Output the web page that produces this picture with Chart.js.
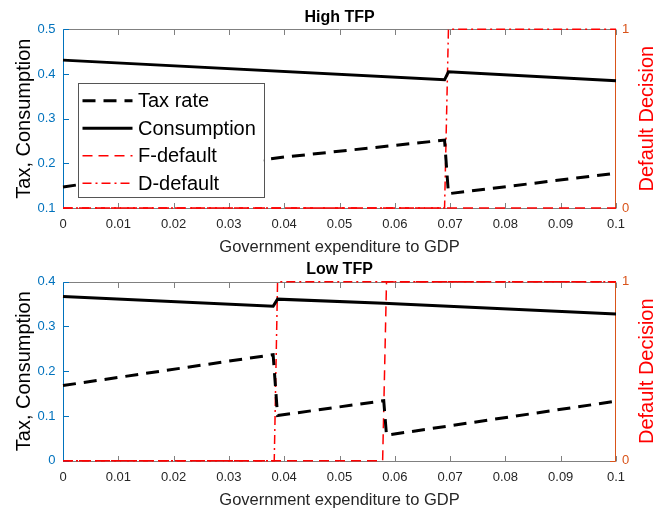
<!DOCTYPE html>
<html>
<head>
<meta charset="utf-8">
<script src="https://cdn.jsdelivr.net/npm/chart.js@4.4.1/dist/chart.umd.min.js"></script>
<style>
  html, body { margin: 0; padding: 0; background: #fff; }
  .panel { position: absolute; left: 0; width: 654px; height: 255px; }
</style>
</head>
<body>
<div class="panel" style="top:0"><canvas id="highTfp"></canvas></div>
<div class="panel" style="top:255px"><canvas id="lowTfp"></canvas></div>
<script>
// ---- Data: government expenditure to GDP (x) and policy outcomes ----
// High TFP
const HIGH_TAX_G  = [0, 0.02, 0.04, 0.069, 0.0697, 0.1];
const HIGH_TAX    = [0.147, 0.183, 0.214, 0.252, 0.132, 0.178];
const HIGH_CONS_G = [0, 0.069, 0.0697, 0.1];
const HIGH_CONS   = [0.431, 0.387, 0.405, 0.385];
const HIGH_FDEF_G = [0, 0.1];
const HIGH_FDEF   = [0, 0];
const HIGH_DDEF_G = [0, 0.069, 0.0697, 0.1];
const HIGH_DDEF   = [0, 0, 1, 1];

// Low TFP
const LOW_TAX_G  = [0, 0.038, 0.0388, 0.058, 0.0585, 0.1];
const LOW_TAX    = [0.168, 0.237, 0.101, 0.134, 0.057, 0.133];
const LOW_CONS_G = [0, 0.038, 0.0388, 0.058, 0.1];
const LOW_CONS   = [0.367, 0.345, 0.361, 0.352, 0.328];
const LOW_FDEF_G = [0, 0.0578, 0.0585, 0.1];
const LOW_FDEF   = [0, 0, 1, 1];
const LOW_DDEF_G = [0, 0.0382, 0.0388, 0.1];
const LOW_DDEF   = [0, 0, 1, 1];

// Axis ranges / ticks
const X_RANGE = [0, 0.1];
const X_STEP = 0.01;
const HIGH_LEFT_RANGE = [0.1, 0.5];
const LOW_LEFT_RANGE = [0, 0.4];
const LEFT_STEP = 0.1;
const RIGHT_RANGE = [0, 1];

const SERIES_NAMES = ['Tax rate', 'Consumption', 'F-default', 'D-default'];

// ---- Styling ----
const FONT = '"Liberation Sans", Arial, Helvetica, sans-serif';
const BLUE = '#0072BD';
const ORANGE = '#D95319';
const RED = '#FF0000';
const GRAY = '#808080';
const TICK_LEN = 5.5;
const TAX_DASH = [13, 8];
const F_DASH = [10, 6];
const D_DASH = [9, 4, 2, 4];

const pts = (xs, ys) => xs.map((x, i) => ({ x, y: ys[i] }));
const fmt = v => String(parseFloat(Number(v).toFixed(3)));
const crisp = v => Math.round(v) + 0.5;

// Box, inward tick marks and coloured y-axis spines
const framePlugin = {
  id: 'frame',
  beforeDatasetsDraw(chart) {
    const { ctx, chartArea: a, scales } = chart;
    const L = crisp(a.left), R = crisp(a.right - 1), T = crisp(a.top), B = crisp(a.bottom);
    const seg = (x1, y1, x2, y2, c) => {
      ctx.strokeStyle = c; ctx.beginPath(); ctx.moveTo(x1, y1); ctx.lineTo(x2, y2); ctx.stroke();
    };
    ctx.save();
    ctx.lineWidth = 1;
    seg(L, T, R, T, GRAY);
    seg(L, B, R, B, GRAY);
    scales.x.ticks.forEach(t => {
      const px = crisp(scales.x.getPixelForValue(t.value));
      seg(px, B, px, B - TICK_LEN, GRAY);
      seg(px, T, px, T + TICK_LEN, GRAY);
    });
    scales.y.ticks.forEach(t => {
      const py = crisp(scales.y.getPixelForValue(t.value));
      seg(L, py, L + TICK_LEN, py, BLUE);
    });
    scales.y2.ticks.forEach(t => {
      const py = crisp(scales.y2.getPixelForValue(t.value));
      seg(R, py, R - TICK_LEN, py, ORANGE);
    });
    seg(L, T, L, B, BLUE);
    seg(R, T, R, B, ORANGE);
    ctx.restore();
  }
};

// Titles, axis labels and the in-plot legend
const textPlugin = {
  id: 'texts',
  afterDraw(chart, args, opts) {
    const { ctx, chartArea: a } = chart;
    const cx = (a.left + a.right) / 2;
    const cy = (a.top + a.bottom) / 2;
    ctx.save();
    ctx.textBaseline = 'alphabetic';
    ctx.textAlign = 'center';

    ctx.fillStyle = '#000';
    ctx.font = 'bold 16px ' + FONT;
    ctx.fillText(opts.title, cx, a.top - 7.5);

    ctx.fillStyle = '#262626';
    ctx.font = '16.5px ' + FONT;
    ctx.fillText('Government expenditure to GDP', cx, a.bottom + 44);

    ctx.font = '20px ' + FONT;
    ctx.save();
    ctx.translate(30, cy);
    ctx.rotate(-Math.PI / 2);
    ctx.fillStyle = '#000';
    ctx.fillText('Tax, Consumption', 0, 0);
    ctx.restore();

    ctx.save();
    ctx.translate(653, cy);
    ctx.rotate(-Math.PI / 2);
    ctx.fillStyle = RED;
    ctx.fillText('Default Decision', 0, 0);
    ctx.restore();

    if (opts.legend) {
      const bx = a.left + 14.5, by = a.top + 54, bw = 185.5, bh = 114;
      ctx.fillStyle = '#fff';
      ctx.fillRect(bx, by, bw, bh);
      ctx.strokeStyle = '#555';
      ctx.lineWidth = 1;
      ctx.strokeRect(crisp(bx), crisp(by), Math.round(bw), Math.round(bh));
      const rows = [17.5, 45, 72.5, 100];
      ctx.textAlign = 'left';
      ctx.textBaseline = 'middle';
      ctx.font = '20px ' + FONT;
      chart.data.datasets.forEach((ds, i) => {
        const y = by + rows[i];
        ctx.save();
        ctx.strokeStyle = ds.borderColor;
        ctx.lineWidth = ds.borderWidth;
        ctx.setLineDash(ds.borderDash || []);
        ctx.beginPath();
        ctx.moveTo(bx + 5, y);
        ctx.lineTo(bx + 55, y);
        ctx.stroke();
        ctx.restore();
        ctx.fillStyle = '#000';
        ctx.fillText(ds.label, bx + 60.5, y + 1);
      });
    }
    ctx.restore();
  }
};

function makeChart(id, c) {
  const plotTop = c.plotTop, plotBottom = c.plotBottom;
  return new Chart(document.getElementById(id), {
    type: 'line',
    data: {
      datasets: [
        { label: SERIES_NAMES[0], data: pts(c.taxG, c.tax), yAxisID: 'y',
          borderColor: '#000', borderWidth: 3, borderDash: TAX_DASH },
        { label: SERIES_NAMES[1], data: pts(c.consG, c.cons), yAxisID: 'y',
          borderColor: '#000', borderWidth: 3 },
        { label: SERIES_NAMES[2], data: pts(c.fG, c.f), yAxisID: 'y2',
          borderColor: RED, borderWidth: 1.5, borderDash: F_DASH },
        { label: SERIES_NAMES[3], data: pts(c.dG, c.d), yAxisID: 'y2',
          borderColor: RED, borderWidth: 1.5, borderDash: D_DASH }
      ].map(ds => Object.assign(ds, { pointRadius: 0, tension: 0, fill: false,
                                      borderCapStyle: 'butt', clip: 4 }))
    },
    options: {
      responsive: true,
      maintainAspectRatio: false,
      animation: false,
      devicePixelRatio: 1,
      events: [],
      layout: { padding: { top: plotTop, left: 0, right: 0, bottom: 0 } },
      plugins: {
        legend: { display: false },
        tooltip: { enabled: false },
        texts: { title: c.title, legend: c.legend }
      },
      scales: {
        x: {
          type: 'linear', min: X_RANGE[0], max: X_RANGE[1],
          grid: { display: false, drawTicks: false }, border: { display: false },
          ticks: { stepSize: X_STEP, color: '#262626', font: { family: FONT, size: 13 },
                   padding: 8.5, maxRotation: 0, autoSkip: false, callback: v => fmt(v) },
          afterFit: s => { s.height = 255 - plotBottom; }
        },
        y: {
          position: 'left', min: c.leftRange[0], max: c.leftRange[1],
          grid: { display: false, drawTicks: false }, border: { display: false },
          ticks: { stepSize: LEFT_STEP, color: BLUE, font: { family: FONT, size: 13 },
                   padding: 7.5, callback: v => fmt(v) },
          afterFit: s => { s.width = 63; }
        },
        y2: {
          position: 'right', min: RIGHT_RANGE[0], max: RIGHT_RANGE[1],
          grid: { display: false, drawTicks: false }, border: { display: false },
          ticks: { stepSize: 1, color: ORANGE, font: { family: FONT, size: 13 },
                   padding: 6, callback: v => fmt(v) },
          afterFit: s => { s.width = 38; }
        }
      }
    },
    plugins: [framePlugin, textPlugin]
  });
}

makeChart('highTfp', {
  title: 'High TFP', legend: true, plotTop: 29.3, plotBottom: 208,
  leftRange: HIGH_LEFT_RANGE,
  taxG: HIGH_TAX_G, tax: HIGH_TAX, consG: HIGH_CONS_G, cons: HIGH_CONS,
  fG: HIGH_FDEF_G, f: HIGH_FDEF, dG: HIGH_DDEF_G, d: HIGH_DDEF
});

makeChart('lowTfp', {
  title: 'Low TFP', legend: false, plotTop: 26.7, plotBottom: 205.7,
  leftRange: LOW_LEFT_RANGE,
  taxG: LOW_TAX_G, tax: LOW_TAX, consG: LOW_CONS_G, cons: LOW_CONS,
  fG: LOW_FDEF_G, f: LOW_FDEF, dG: LOW_DDEF_G, d: LOW_DDEF
});
</script>
</body>
</html>
